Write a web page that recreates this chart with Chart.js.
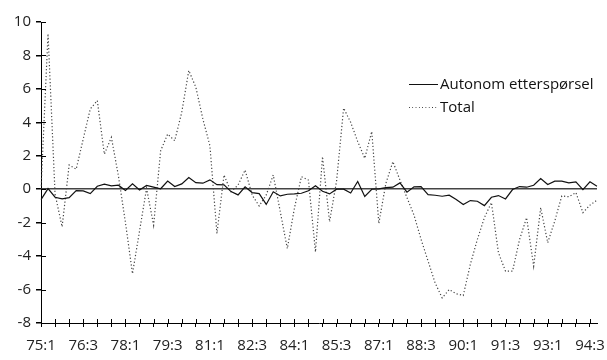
<!DOCTYPE html>
<html>
<head>
<meta charset="utf-8">
<script src="https://cdn.jsdelivr.net/npm/chart.js@4"></script>
<style>
    body { margin: 0; background: #fff; }
    .wrap { position: relative; width: 607px; height: 360px; }
    .legend { position: absolute; left: 409px; top: 72px; font: 15px "Open Sans", sans-serif; color: #111; }
    .legend div { height: 23px; line-height: 23px; white-space: nowrap; }
    .legend span { display: inline-block; width: 29px; height: 1px; vertical-align: middle; margin-right: 2px; }
    .solid { background: #111; }
    .dots { background-image: linear-gradient(to right, #333 1px, transparent 1px); background-size: 3.3px 1px; }
</style>
</head>
<body>
<div class="wrap">
    <canvas id="chart"></canvas>
    <div class="legend">
        <div><span class="solid"></span>Autonom etterspørsel</div>
        <div><span class="dots"></span>Total</div>
    </div>
</div>
<script>
// quarters 75:1 .. 94:4
const quarters = [];
for (let yr = 75; yr <= 94; yr++) {
    for (let q = 1; q <= 4; q++) quarters.push(yr + ':' + q);
}

const tickLabels = ['75:1', '76:3', '78:1', '79:3', '81:1', '82:3', '84:1',
    '85:3', '87:1', '88:3', '90:1', '91:3', '93:1', '94:3'];

const autonom = [
    -0.62, 0.04, -0.48, -0.58, -0.5, -0.08, -0.1, -0.26, 0.18, 0.3,
    0.2, 0.24, -0.07, 0.32, -0.04, 0.23, 0.13, 0.03, 0.49, 0.16,
    0.32, 0.7, 0.39, 0.36, 0.56, 0.27, 0.26, -0.14, -0.34, 0.14,
    -0.2, -0.26, -0.91, -0.15, -0.4, -0.3, -0.28, -0.24, -0.09, 0.21,
    -0.12, -0.28, 0, 0, -0.23, 0.46, -0.43, 0, 0.02, 0.1,
    0.12, 0.38, -0.18, 0.14, 0.16, -0.32, -0.36, -0.42, -0.36, -0.62,
    -0.92, -0.68, -0.72, -0.98, -0.48, -0.38, -0.58, -0.02, 0.16, 0.12,
    0.24, 0.64, 0.28, 0.48, 0.48, 0.38, 0.44, -0.02, 0.44, 0.18
];

const total = [
    0.0, 9.3, -0.3, -2.25, 1.45, 1.2, 3.0, 4.8, 5.3, 2.1,
    3.1, 0.8, -2.0, -5.05, -2.5, 0.05, -2.15, 2.3, 3.3, 2.9,
    4.6, 7.1, 6.1, 4.2, 2.6, -2.65, 0.85, -0.15, 0.25, 1.15,
    -0.35, -1.0, -0.35, 0.85, -1.35, -3.55, -1.15, 0.75, 0.55, -3.75,
    1.95, -1.95, 0.5, 4.85, 4.0, 2.85, 1.85, 3.45, -2.05, 0.35,
    1.65, 0.55, -0.5, -1.55, -3.0, -4.3, -5.6, -6.5, -6.0, -6.25,
    -6.35, -4.5, -3.0, -1.7, -0.8, -3.8, -4.9, -4.9, -3.0, -1.7,
    -4.6, -1.1, -3.2, -1.9, -0.4, -0.45, -0.2, -1.4, -0.95, -0.65
];

Chart.defaults.font.family = '"Open Sans", sans-serif';
Chart.defaults.font.size = 15;
Chart.defaults.color = '#222';

// tick marks also go into the plot area, like the original
const innerTicks = {
    id: 'innerTicks',
    afterDraw(chart) {
        const { ctx, chartArea, scales } = chart;
        ctx.save();
        ctx.strokeStyle = '#000';
        ctx.lineWidth = 1;
        ctx.beginPath();
        scales.y.ticks.forEach((t, i) => {
            const py = Math.round(scales.y.getPixelForTick(i)) + 0.5;
            ctx.moveTo(chartArea.left, py);
            ctx.lineTo(chartArea.left + 5, py);
        });
        scales.x.ticks.forEach((t, i) => {
            if (i % 2) return;
            const px = Math.round(scales.x.getPixelForTick(i)) + 0.5;
            ctx.moveTo(px, chartArea.bottom);
            ctx.lineTo(px, chartArea.bottom - 4);
        });
        ctx.stroke();
        ctx.restore();
    }
};

new Chart(document.getElementById('chart'), {
    type: 'line',
    data: {
        labels: quarters,
        datasets: [
            {
                label: 'Autonom etterspørsel',
                data: autonom,
                borderColor: '#111',
                borderWidth: 1.2,
                pointRadius: 0,
                tension: 0
            },
            {
                label: 'Total',
                data: total,
                borderColor: '#444',
                borderWidth: 1.2,
                borderDash: [1.2, 2.2],
                pointRadius: 0,
                tension: 0
            }
        ]
    },
    options: {
        responsive: true,
        maintainAspectRatio: false,
        animation: false,
        layout: { padding: { top: 22, right: 7, left: 0, bottom: 0 } },
        plugins: {
            legend: { display: false },
            tooltip: { enabled: false }
        },
        scales: {
            x: {
                offset: false,
                border: { display: true, color: '#000', width: 1 },
                grid: {
                    drawOnChartArea: false,
                    drawTicks: true,
                    tickLength: 4,
                    color: ctx => (ctx.index % 2 === 0 ? '#000' : 'transparent')
                },
                ticks: {
                    autoSkip: false,
                    maxRotation: 0,
                    padding: 10,
                    callback: (val, i) => (tickLabels.includes(quarters[i]) ? quarters[i] : '')
                },
                afterFit: scale => { scale.height = 37; }
            },
            y: {
                min: -8,
                max: 10,
                border: { display: true, color: '#000', width: 1 },
                grid: {
                    drawOnChartArea: true,
                    drawTicks: true,
                    tickLength: 5,
                    tickColor: '#000',
                    lineWidth: 1.5,
                    color: ctx => (ctx.tick && ctx.tick.value === 0 ? '#444' : 'transparent')
                },
                ticks: { stepSize: 2, padding: 5 },
                afterFit: scale => { scale.width = 41; }
            }
        }
    },
    plugins: [innerTicks]
});
</script>
</body>
</html>
